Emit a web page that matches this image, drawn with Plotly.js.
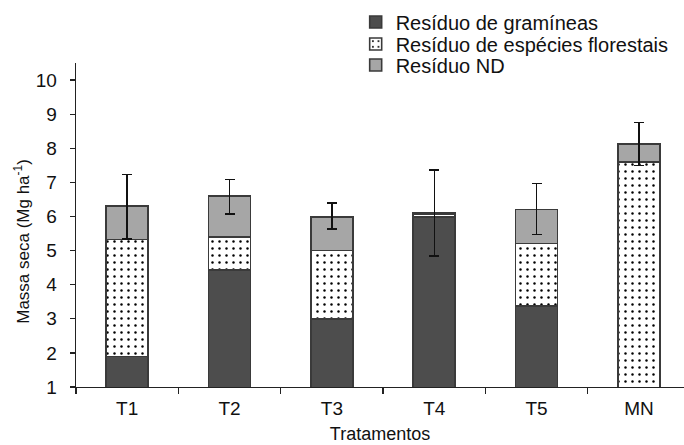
<!DOCTYPE html>
<html>
<head>
<meta charset="utf-8">
<script src="https://cdn.plot.ly/plotly-3.0.1.min.js"></script>
<style>html,body{margin:0;padding:0;background:#fff;}#chart{width:684px;height:445px;}</style>
</head>
<body>
<div id="chart"></div>
<script>
const categories = ["T1", "T2", "T3", "T4", "T5", "MN"];
const gramineas = [1.90, 4.43, 2.99, 5.99, 3.37, 0];
const florestais = [3.43, 0.96, 2.01, 0.09, 1.84, 7.60];
const residuoND = [0.98, 1.21, 0.99, 0.03, 1.00, 0.53];
const errPlus = [0.92, 0.48, 0.41, 1.25, 0.75, 0.63];
const errMinus = [0.97, 0.52, 0.35, 1.27, 0.74, 0.64];
const seriesNames = ["Resíduo de gramíneas", "Resíduo de espécies florestais", "Resíduo ND"];

const lineStyle = {color: "#3a3a3a", width: 1.6};
const barWidth = 0.41;

const traces = [
  {
    type: "bar", name: seriesNames[0], x: categories, y: gramineas, width: barWidth,
    legend: "legend",
    marker: {color: "#4d4d4d", line: lineStyle}
  },
  {
    type: "bar", name: seriesNames[1], x: categories, y: florestais, width: barWidth,
    legend: "legend2",
    marker: {color: "#ffffff", line: lineStyle,
      pattern: {shape: ".", fgcolor: "#000000", bgcolor: "#ffffff", size: 7, solidity: 0.1}}
  },
  {
    type: "bar", name: seriesNames[2], x: categories, y: residuoND, width: barWidth,
    legend: "legend3",
    marker: {color: "#a6a6a6", line: lineStyle},
    error_y: {type: "data", symmetric: false, array: errPlus, arrayminus: errMinus,
      color: "#111111", thickness: 1.5, width: 5}
  }
];

const font = {family: "Liberation Sans, Arial, sans-serif", color: "#111111"};
function legendAt(y) {
  return {x: 0.46, y: y, xanchor: "left", yanchor: "middle",
    font: Object.assign({size: 20}, font), bgcolor: "rgba(0,0,0,0)", itemclick: false};
}

const layout = {
  width: 684, height: 445,
  margin: {l: 76, r: 0, t: 63, b: 58},
  barmode: "stack",
  paper_bgcolor: "#ffffff", plot_bgcolor: "#ffffff",
  font: Object.assign({size: 17}, font),
  showlegend: true,
  legend: legendAt(1.1267),
  legend2: legendAt(1.0587),
  legend3: legendAt(0.9938),
  xaxis: {
    type: "category", range: [-0.5, 5.44],
    showline: true, linecolor: "#222222", linewidth: 1.3,
    ticks: "outside", tickson: "boundaries", ticklen: 6, tickcolor: "#222222", tickwidth: 1.3,
    showgrid: false, zeroline: false,
    ticklabelstandoff: 4,
    tickfont: Object.assign({size: 19}, font),
    title: {text: "Tratamentos", font: Object.assign({size: 18}, font), standoff: 9}
  },
  yaxis: {
    range: [1, 10.5], tickvals: [1,2,3,4,5,6,7,8,9,10],
    showline: true, linecolor: "#222222", linewidth: 1.3,
    ticks: "outside", ticklen: 5, tickcolor: "#222222", tickwidth: 1.3,
    showgrid: false, zeroline: false,
    ticklabelstandoff: 9,
    tickfont: Object.assign({size: 19}, font)
  },
  annotations: [{
    text: "Massa seca (Mg ha<sup>-1</sup>)", textangle: -90,
    xref: "paper", yref: "paper", x: -0.089, y: 0.451,
    xanchor: "center", yanchor: "middle", showarrow: false,
    font: Object.assign({size: 17}, font)
  }]
};

Plotly.newPlot("chart", traces, layout, {displayModeBar: false, staticPlot: true});
</script>
</body>
</html>
